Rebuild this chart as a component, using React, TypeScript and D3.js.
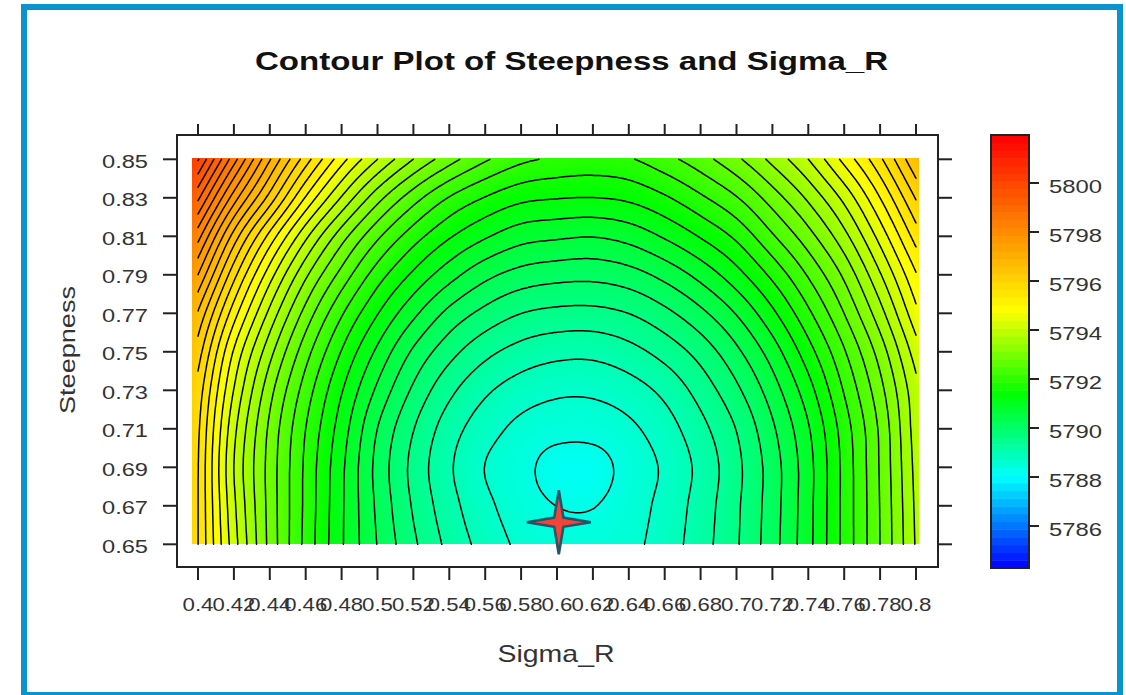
import React, { useMemo } from 'react';
import * as d3 from 'd3';

// grid axes
const sigmaR = [0.40, 0.42, 0.44, 0.46, 0.48, 0.50, 0.52, 0.54, 0.56, 0.58, 0.60, 0.62, 0.64, 0.66, 0.68, 0.70, 0.72, 0.74, 0.76, 0.78, 0.80];
const steepness = [0.65, 0.67, 0.69, 0.71, 0.73, 0.75, 0.77, 0.79, 0.81, 0.83, 0.85];

// values, one row per steepness value (left to right along sigmaR)
const z065 = [5795.67, 5794.15, 5792.90, 5791.90, 5791.04, 5790.32, 5789.73, 5789.24, 5788.87, 5788.60, 5788.50, 5788.50, 5788.58, 5788.82, 5789.19, 5789.63, 5790.20, 5790.90, 5791.77, 5792.67, 5793.70];
const z067 = [5795.67, 5794.07, 5792.88, 5791.92, 5791.05, 5790.27, 5789.63, 5789.13, 5788.75, 5788.50, 5788.33, 5788.32, 5788.52, 5788.77, 5789.15, 5789.61, 5790.18, 5790.89, 5791.77, 5792.68, 5793.73];
const z069 = [5795.68, 5794.00, 5792.87, 5791.93, 5791.07, 5790.23, 5789.57, 5789.05, 5788.66, 5788.45, 5788.18, 5788.18, 5788.47, 5788.72, 5789.10, 5789.58, 5790.17, 5790.88, 5791.77, 5792.70, 5793.77];
const z071 = [5795.73, 5794.10, 5792.93, 5792.00, 5791.17, 5790.33, 5789.68, 5789.16, 5788.81, 5788.58, 5788.47, 5788.47, 5788.60, 5788.85, 5789.23, 5789.68, 5790.28, 5790.97, 5791.83, 5792.73, 5793.83];
const z073 = [5795.87, 5794.32, 5793.12, 5792.18, 5791.36, 5790.60, 5789.94, 5789.42, 5789.06, 5788.84, 5788.73, 5788.73, 5788.85, 5789.09, 5789.47, 5789.93, 5790.51, 5791.20, 5792.03, 5792.89, 5793.90];
const z075 = [5796.17, 5794.63, 5793.45, 5792.47, 5791.65, 5790.93, 5790.28, 5789.79, 5789.43, 5789.21, 5789.10, 5789.09, 5789.22, 5789.46, 5789.80, 5790.26, 5790.83, 5791.53, 5792.30, 5793.15, 5794.17];
const z077 = [5796.63, 5795.15, 5793.91, 5792.88, 5792.04, 5791.35, 5790.75, 5790.24, 5789.90, 5789.67, 5789.58, 5789.57, 5789.67, 5789.91, 5790.25, 5790.69, 5791.26, 5791.93, 5792.67, 5793.54, 5794.57];
const z079 = [5797.33, 5795.78, 5794.48, 5793.40, 5792.55, 5791.83, 5791.27, 5790.80, 5790.43, 5790.21, 5790.12, 5790.10, 5790.20, 5790.44, 5790.78, 5791.21, 5791.75, 5792.37, 5793.07, 5793.97, 5794.97];
const z081 = [5798.13, 5796.53, 5795.22, 5794.08, 5793.15, 5792.40, 5791.82, 5791.37, 5791.04, 5790.80, 5790.72, 5790.68, 5790.79, 5791.04, 5791.36, 5791.74, 5792.29, 5792.87, 5793.56, 5794.46, 5795.48];
const z083 = [5799.07, 5797.50, 5796.20, 5794.97, 5793.97, 5793.13, 5792.48, 5791.98, 5791.65, 5791.42, 5791.35, 5791.33, 5791.40, 5791.62, 5791.94, 5792.31, 5792.83, 5793.40, 5794.10, 5795.00, 5796.03];
const z085 = [5800.03, 5798.47, 5797.03, 5795.83, 5794.80, 5794.00, 5793.33, 5792.80, 5792.38, 5792.08, 5791.95, 5791.90, 5791.97, 5792.22, 5792.53, 5792.93, 5793.43, 5794.00, 5794.77, 5795.60, 5796.63];
const zRows = [z065, z067, z069, z071, z073, z075, z077, z079, z081, z083, z085];

const colorbarTicks = [5786, 5788, 5790, 5792, 5794, 5796, 5798, 5800];
const optimum = [0.601, 0.6615]; // sigma_R, steepness of the star

const contourBase = 5788;
const contourStep = 1 / 3;

const FONT = "'Liberation Sans', Arial, sans-serif";

// rainbow: blue -> cyan -> green -> yellow -> red
const hueScale = d3.scaleLinear()
  .domain([5784.3, 5788, 5791.4, 5794.8, 5801.9])
  .range([240, 180, 120, 60, 0])
  .clamp(true);
const colorOf = (z: number) => d3.hsl(hueScale(z), 1, 0.5).rgb();

const cubic = (p0: number, p1: number, p2: number, p3: number, t: number) =>
  p1 + 0.5 * t * (p2 - p0 + t * (2 * p0 - 5 * p1 + 4 * p2 - p3 + t * (3 * (p1 - p2) + p3 - p0)));

const App: React.FC = () => {
  const x = d3.scaleLinear().domain([0.4, 0.8]).range([198, 916]);
  const y = d3.scaleLinear().domain([0.65, 0.85]).range([544.3, 159.3]);
  const cb = d3.scaleLinear().domain([5786, 5800]).range([526, 183]);

  const frame = { left: 177, top: 135, right: 938, bottom: 567 };
  const bar = { left: 991, top: 135, right: 1029, bottom: 568 };

  const { href, img, contourD } = useMemo(() => {
    const nx = sigmaR.length;
    const ny = steepness.length;
    const gi = d3.scaleLinear().domain([sigmaR[0], sigmaR[nx - 1]]).range([0, nx - 1]);
    const gj = d3.scaleLinear().domain([steepness[0], steepness[ny - 1]]).range([0, ny - 1]);

    const at = (i: number, j: number): number => {
      if (i < 0) return 2 * at(0, j) - at(1, j);
      if (i >= nx) return 2 * at(nx - 1, j) - at(nx - 2, j);
      if (j < 0) return 2 * at(i, 0) - at(i, 1);
      if (j >= ny) return 2 * at(i, ny - 1) - at(i, ny - 2);
      return zRows[j][i];
    };

    // smooth (bicubic) reading of the grid for drawing
    const field = (sx: number, sy: number) => {
      const u = gi(x.invert(sx));
      const v = gj(y.invert(sy));
      const i = Math.max(0, Math.min(nx - 2, Math.floor(u)));
      const j = Math.max(0, Math.min(ny - 2, Math.floor(v)));
      const tx = u - i;
      const ty = v - j;
      const r = [-1, 0, 1, 2].map(dj =>
        cubic(at(i - 1, j + dj), at(i, j + dj), at(i + 1, j + dj), at(i + 2, j + dj), tx));
      return cubic(r[0], r[1], r[2], r[3], ty);
    };

    // raster fill
    const left = Math.round(x(0.4) - 6);
    const right = Math.round(x(0.8) + 3);
    const top = Math.round(y(0.85) - 1);
    const bottom = Math.round(y(0.65));
    const w = right - left;
    const h = bottom - top;
    const lutMin = 5783, lutMax = 5803, lutN = 2048;
    const lut = d3.range(lutN).map(k => colorOf(lutMin + (k / (lutN - 1)) * (lutMax - lutMin)));
    const canvas = document.createElement('canvas');
    canvas.width = w;
    canvas.height = h;
    const ctx = canvas.getContext('2d')!;
    const data = ctx.createImageData(w, h);
    for (let py = 0; py < h; py++) {
      for (let px = 0; px < w; px++) {
        const z = field(left + px + 0.5, top + py + 0.5);
        const k = Math.max(0, Math.min(lutN - 1, Math.round(((z - lutMin) / (lutMax - lutMin)) * (lutN - 1))));
        const c = lut[k];
        const o = (py * w + px) * 4;
        data.data[o] = c.r;
        data.data[o + 1] = c.g;
        data.data[o + 2] = c.b;
        data.data[o + 3] = 255;
      }
    }
    ctx.putImageData(data, 0, 0);

    // contour lines (marching squares)
    const step = 2;
    const x0 = x(0.4), x1 = x(0.8), y0 = y(0.85), y1 = y(0.65);
    const nc = Math.ceil((x1 - x0) / step);
    const nr = Math.ceil((y1 - y0) / step);
    const sxs = d3.range(nc + 1).map(c => Math.min(x0 + c * step, x1));
    const sys = d3.range(nr + 1).map(r => Math.min(y0 + r * step, y1));
    const vals = sys.map(sy => sxs.map(sx => field(sx, sy)));
    const parts: string[] = [];
    const f = (n: number) => n.toFixed(1);
    for (let r = 0; r < nr; r++) {
      for (let c = 0; c < nc; c++) {
        const a = vals[r][c], b = vals[r][c + 1], cc = vals[r + 1][c + 1], dd = vals[r + 1][c];
        const lo = Math.min(a, b, cc, dd), hi = Math.max(a, b, cc, dd);
        const k0 = Math.ceil((lo - contourBase) / contourStep);
        const k1 = Math.floor((hi - contourBase) / contourStep);
        const xl = sxs[c], xr = sxs[c + 1], yt = sys[r], yb = sys[r + 1];
        for (let k = k0; k <= k1; k++) {
          const lev = contourBase + k * contourStep;
          const cross = (va: number, vb: number, xa: number, ya: number, xb: number, yb2: number) => {
            if ((va >= lev) === (vb >= lev)) return null;
            const t = (lev - va) / (vb - va);
            return [xa + (xb - xa) * t, ya + (yb2 - ya) * t];
          };
          const e = [
            cross(a, b, xl, yt, xr, yt),
            cross(b, cc, xr, yt, xr, yb),
            cross(dd, cc, xl, yb, xr, yb),
            cross(a, dd, xl, yt, xl, yb),
          ];
          const seg = (p: number[] | null, q: number[] | null) => {
            if (p && q) parts.push(`M${f(p[0])},${f(p[1])}L${f(q[0])},${f(q[1])}`);
          };
          const hits = e.filter(Boolean) as number[][];
          if (hits.length === 2) seg(hits[0], hits[1]);
          else if (hits.length === 4) {
            const center = (a + b + cc + dd) / 4;
            if ((center >= lev) === (a >= lev)) { seg(e[0], e[1]); seg(e[2], e[3]); }
            else { seg(e[0], e[3]); seg(e[1], e[2]); }
          }
        }
      }
    }

    return {
      href: canvas.toDataURL(),
      img: { left, top, w, h },
      contourD: parts.join(''),
    };
  }, []);

  // four-pointed star
  const starPts = d3.range(8).map(k => [k * Math.PI / 4, k % 2 === 0 ? 32 : 6.5] as [number, number]);
  const starPath = d3.lineRadial<[number, number]>()
    .angle(d => d[0])
    .radius(d => d[1])
    .curve(d3.curveLinearClosed)(starPts) || '';

  // colour bar bands
  const nBands = 56;
  const vTop = cb.invert(bar.top);
  const vBot = cb.invert(bar.bottom);
  const bands = d3.range(nBands).map(k => {
    const v0 = vBot + (k / nBands) * (vTop - vBot);
    const v1 = vBot + ((k + 1) / nBands) * (vTop - vBot);
    return { y0: cb(v1), y1: cb(v0), color: colorOf((v0 + v1) / 2).formatHex() };
  });

  const fmtX = (v: number) => String(parseFloat(v.toFixed(2)));

  return (
    <svg width={1126} height={695} style={{ position: 'absolute', left: 0, top: 0, background: '#fff' }}>
      <rect x={24} y={7} width={1096} height={688} fill="#fff" stroke="#0a93cf" strokeWidth={6} />

      <text x={571.5} y={70} textAnchor="middle" fontFamily={FONT} fontWeight="bold" fontSize={26}
        textLength={633} lengthAdjust="spacingAndGlyphs" fill="#111">
        Contour Plot of Steepness and Sigma_R
      </text>

      <image href={href} x={img.left} y={img.top} width={img.w} height={img.h} preserveAspectRatio="none" />
      <path d={contourD} fill="none" stroke="#000" strokeWidth={1.5} strokeLinecap="round" />

      <g transform={`translate(${x(optimum[0])},${y(optimum[1])})`}>
        <path d={starPath} fill="#f2453a" stroke="#1f5668" strokeWidth={2.6} strokeLinejoin="miter" />
      </g>

      <rect x={frame.left} y={frame.top} width={frame.right - frame.left} height={frame.bottom - frame.top}
        fill="none" stroke="#222" strokeWidth={2} />

      {sigmaR.map(v => (
        <g key={`x${v}`} stroke="#222" strokeWidth={2}>
          <line x1={x(v)} x2={x(v)} y1={frame.top - 11} y2={frame.top} />
          <line x1={x(v)} x2={x(v)} y1={frame.bottom} y2={frame.bottom + 13} />
        </g>
      ))}
      {steepness.map(v => (
        <g key={`y${v}`} stroke="#222" strokeWidth={2}>
          <line x1={frame.left - 14} x2={frame.left} y1={y(v)} y2={y(v)} />
          <line x1={frame.right} x2={frame.right + 14} y1={y(v)} y2={y(v)} />
        </g>
      ))}

      {sigmaR.map(v => {
        const label = fmtX(v);
        return (
          <text key={`xl${v}`} x={x(v)} y={611} textAnchor="middle" fontFamily={FONT} fontSize={19} fill="#333"
            textLength={label.length === 3 ? 31 : 43} lengthAdjust="spacingAndGlyphs">
            {label}
          </text>
        );
      })}
      {steepness.map(v => (
        <text key={`yl${v}`} x={148} y={y(v) + 8.5} textAnchor="end" fontFamily={FONT} fontSize={18} fill="#333"
          textLength={46} lengthAdjust="spacingAndGlyphs">
          {v.toFixed(2)}
        </text>
      ))}

      <text x={556} y={662} textAnchor="middle" fontFamily={FONT} fontSize={24} fill="#333"
        textLength={117} lengthAdjust="spacingAndGlyphs">Sigma_R</text>
      <text transform="translate(75,350) rotate(-90)" textAnchor="middle" fontFamily={FONT} fontSize={22} fill="#333"
        textLength={128} lengthAdjust="spacingAndGlyphs">Steepness</text>

      {bands.map((b, i) => (
        <rect key={`b${i}`} x={bar.left} y={b.y0} width={bar.right - bar.left} height={b.y1 - b.y0 + 0.5} fill={b.color} />
      ))}
      <rect x={bar.left} y={bar.top} width={bar.right - bar.left} height={bar.bottom - bar.top}
        fill="none" stroke="#222" strokeWidth={2} />
      {colorbarTicks.map(v => (
        <g key={`c${v}`}>
          <line x1={bar.right} x2={bar.right + 10} y1={cb(v)} y2={cb(v)} stroke="#222" strokeWidth={2} />
          <text x={1049} y={cb(v) + 10} fontFamily={FONT} fontSize={19} fill="#333"
            textLength={53} lengthAdjust="spacingAndGlyphs">{v}</text>
        </g>
      ))}
    </svg>
  );
};

export default App;
